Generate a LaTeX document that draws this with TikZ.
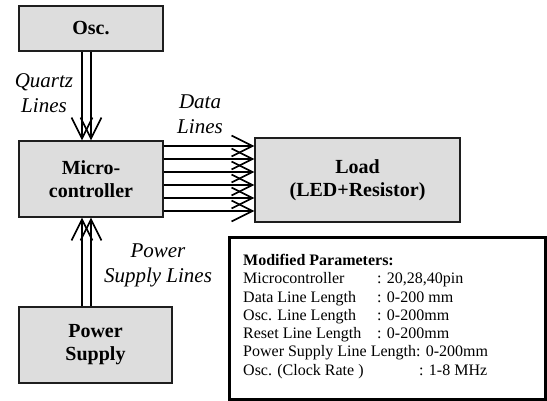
\documentclass[tikz,border=0pt]{standalone}
\usepackage{fontspec}
\setmainfont{Liberation Serif}
\usepackage{tikz}
\usetikzlibrary{positioning, arrows.meta, calc}
\definecolor{boxfill}{RGB}{221,221,221}
\definecolor{boxline}{RGB}{30,30,30}

\begin{document}
\begin{tikzpicture}[x=1pt, y=-1pt,
      blk/.style={draw=boxline, line width=1.4pt, fill=boxfill, inner sep=0pt, align=center,
        font=\fontsize{20}{23}\selectfont\bfseries},
      lbl/.style={align=center, inner sep=0pt, font=\fontsize{21}{25}\selectfont\itshape},
      arr/.style={-{Straight Barb[length=21pt, width=21pt]}, line width=1.6pt, black}]
    \useasboundingbox (0,0) rectangle (547,401);
    \node[blk, minimum width=144pt, minimum height=45pt] (osc) at (91,28.5) {Osc.};
    \node[blk, minimum width=144pt, minimum height=76pt] (micro) at (91,179) {Micro-\\controller};
    \node[blk, minimum width=153pt, minimum height=76pt] (power) at (95.5,345) {Power\\Supply};
    \node[blk, minimum width=205pt, minimum height=84pt] (load) at (357.5,180) {Load\\(LED+Resistor)};
    \node[draw=black, line width=2.4pt, minimum width=316pt, minimum height=162pt] (param) at (387.5,318.5) {};
    \node[anchor=north west, align=left, inner sep=0pt, font=\fontsize{16}{18.3}\selectfont] (ptext) at (243,254)
      {\textbf{Modified Parameters:}\\
       \makebox[134pt][l]{Microcontroller}: 20,28,40pin\\
       \makebox[134pt][l]{Data Line Length}: 0-200 mm\\
       \makebox[134pt][l]{Osc. Line Length}: 0-200mm\\
       \makebox[134pt][l]{Reset Line Length}: 0-200mm\\
       Power Supply Line Length: 0-200mm\\
       \makebox[176pt][l]{Osc. (Clock Rate )}: 1-8 MHz};
    % lines
    \foreach \dx in {-9,0}
      \draw[arr] ([xshift=\dx pt]osc.south) -- ([xshift=\dx pt]micro.north);
    \foreach \dx in {-9,0}
      \draw[arr] ([xshift=\dx pt]micro.south |- power.north) -- ([xshift=\dx pt]micro.south);
    \foreach \k in {0,...,5}
      \draw[arr] ([yshift=33pt-13pt*\k]micro.east) coordinate (d) -- (d -| load.west);
    \node[lbl] (quartz) at (44,93) {Quartz\\Lines};
    \node[lbl] (data) at (200,114) {Data\\Lines};
    \node[lbl] (supply) at (158,265) {Power\\Supply Lines};
  \end{tikzpicture}
\end{document}
